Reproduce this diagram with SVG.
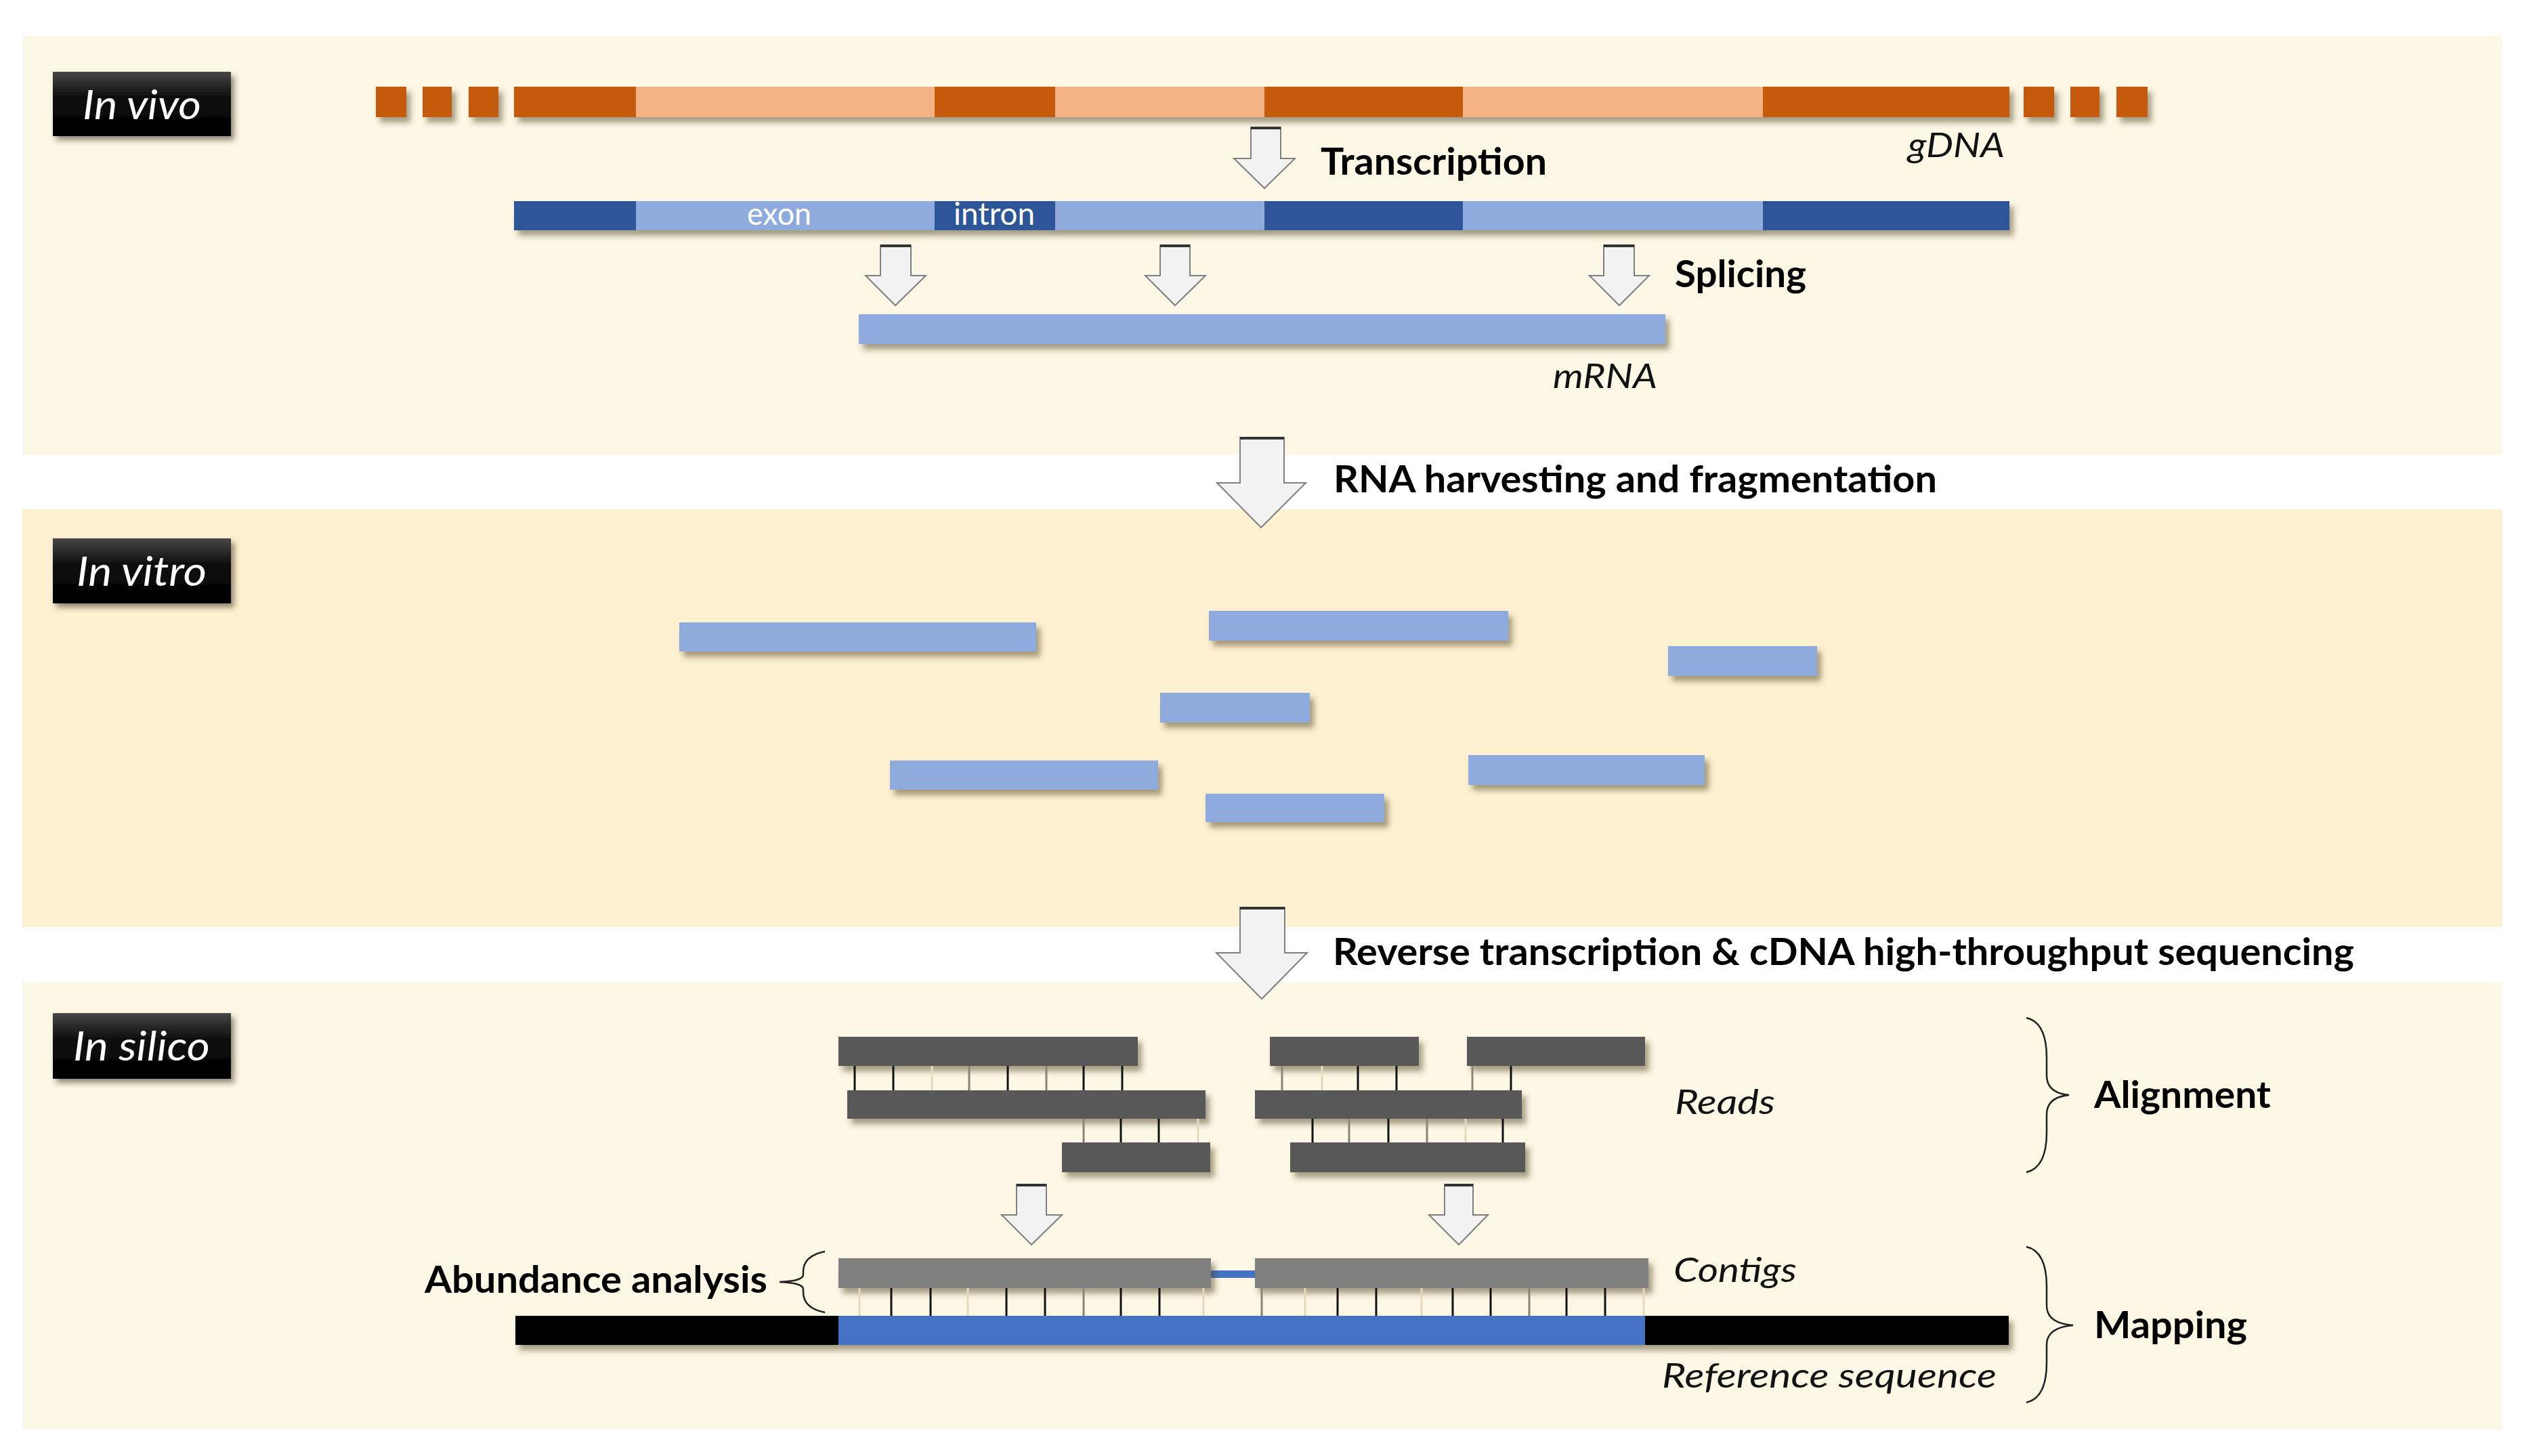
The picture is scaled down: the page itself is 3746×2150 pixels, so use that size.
<svg xmlns="http://www.w3.org/2000/svg" width="3746" height="2150" viewBox="0 0 3746 2150">
<defs>
  <filter id="sh" x="-5%" y="-30%" width="115%" height="200%">
    <feDropShadow dx="6" dy="8" stdDeviation="4" flood-color="#4a3f22" flood-opacity="0.5"/>
  </filter>
  <filter id="shs" x="-10%" y="-10%" width="130%" height="130%">
    <feDropShadow dx="5" dy="6" stdDeviation="4" flood-color="#3a3220" flood-opacity="0.55"/>
  </filter>
  <linearGradient id="lab" x1="0" y1="0" x2="0" y2="1">
    <stop offset="0" stop-color="#474747"/>
    <stop offset="0.4" stop-color="#0d0d0d"/>
    <stop offset="1" stop-color="#000000"/>
  </linearGradient>
  <style>
    .t{font-family:Lato,"Open Sans","Liberation Sans",sans-serif;}
    .b{font-weight:bold;font-size:55px;fill:#000;}
    .i{font-style:italic;font-size:50px;fill:#111;}
    .lab{font-style:italic;font-size:60px;fill:#fff;}
    .w{font-size:46px;fill:#fff;}
    .do{fill:#C55A11;}
    .lo{fill:#F4B183;}
    .db{fill:#2F5597;}
    .lb{fill:#8FAADC;}
    .rd{fill:#595959;}
    .ct{fill:#808080;}
    .arr{fill:#F2F2F2;stroke:#7F7F7F;stroke-width:2;stroke-linejoin:miter;}
    .atop{stroke:#333;stroke-width:4;}
    .tk{stroke:#111;stroke-width:3;}
    .tm{stroke:#8a8474;stroke-width:3;}
    .tf{stroke:#e3d9bd;stroke-width:3;}
    .br{fill:none;stroke:#222;stroke-width:2.5;}
  </style>
</defs>

<!-- panels -->
<rect width="3746" height="2150" fill="#ffffff"/>
<g id="panel-vivo"><rect x="33" y="53" width="3662" height="619" fill="#FDF7E5"/></g>
<g id="panel-vitro"><rect x="33" y="752" width="3662" height="617" fill="#FEF1D1"/></g>
<g id="panel-silico"><rect x="33" y="1450" width="3662" height="661" fill="#FDF7E5"/></g>

<!-- section labels -->
<g id="label-vivo">
  <rect x="78" y="106" width="263" height="95" fill="url(#lab)" filter="url(#shs)"/>
  <text class="t lab" x="122" y="176" textLength="175" lengthAdjust="spacingAndGlyphs">In vivo</text>
</g>
<g id="label-vitro">
  <rect x="78" y="795" width="263" height="96" fill="url(#lab)" filter="url(#shs)"/>
  <text class="t lab" x="113" y="865" textLength="192" lengthAdjust="spacingAndGlyphs">In vitro</text>
</g>
<g id="label-silico">
  <rect x="78" y="1496" width="263" height="97" fill="url(#lab)" filter="url(#shs)"/>
  <text class="t lab" x="108" y="1566" textLength="202" lengthAdjust="spacingAndGlyphs">In silico</text>
</g>

<!-- gDNA -->
<g id="gDNA">
  <g filter="url(#sh)">
    <rect class="do" x="555" y="128" width="45" height="45"/>
    <rect class="do" x="624" y="128" width="43" height="45"/>
    <rect class="do" x="692" y="128" width="44" height="45"/>
    <rect class="do" x="759" y="128" width="180" height="45"/>
    <rect class="lo" x="939" y="128" width="441" height="45"/>
    <rect class="do" x="1380" y="128" width="178" height="45"/>
    <rect class="lo" x="1558" y="128" width="309" height="45"/>
    <rect class="do" x="1867" y="128" width="293" height="45"/>
    <rect class="lo" x="2160" y="128" width="443" height="45"/>
    <rect class="do" x="2603" y="128" width="364" height="45"/>
    <rect class="do" x="2988" y="128" width="45" height="45"/>
    <rect class="do" x="3057" y="128" width="43" height="45"/>
    <rect class="do" x="3125" y="128" width="46" height="45"/>
  </g>
  <text class="t i" x="2817" y="232" textLength="143" lengthAdjust="spacingAndGlyphs">gDNA</text>
</g>

<!-- pre-mRNA -->
<g id="pre-mRNA">
  <g filter="url(#sh)">
    <rect class="db" x="759" y="297" width="180" height="43"/>
    <rect class="lb" x="939" y="297" width="441" height="43"/>
    <rect class="db" x="1380" y="297" width="178" height="43"/>
    <rect class="lb" x="1558" y="297" width="309" height="43"/>
    <rect class="db" x="1867" y="297" width="293" height="43"/>
    <rect class="lb" x="2160" y="297" width="443" height="43"/>
    <rect class="db" x="2603" y="297" width="364" height="43"/>
  </g>
  <text class="t w" x="1103" y="332" textLength="95" lengthAdjust="spacingAndGlyphs">exon</text>
  <text class="t w" x="1408" y="332" textLength="120" lengthAdjust="spacingAndGlyphs">intron</text>
</g>

<!-- mRNA -->
<g id="mRNA">
  <rect class="lb" x="1268" y="464" width="1191" height="44" filter="url(#sh)"/>
  <text class="t i" x="2293" y="573" textLength="154" lengthAdjust="spacingAndGlyphs">mRNA</text>
</g>

<!-- fragments -->
<g id="fragments" filter="url(#sh)">
  <rect class="lb" x="1003" y="919" width="527" height="43"/>
  <rect class="lb" x="1785" y="902" width="442" height="44"/>
  <rect class="lb" x="2463" y="954" width="220" height="44"/>
  <rect class="lb" x="1713" y="1023" width="221" height="44"/>
  <rect class="lb" x="1314" y="1123" width="396" height="43"/>
  <rect class="lb" x="1780" y="1172" width="264" height="42"/>
  <rect class="lb" x="2168" y="1115" width="349" height="44"/>
</g>

<!-- reads -->
<g id="reads">
  <g filter="url(#sh)">
    <rect class="rd" x="1238" y="1531" width="442" height="43"/>
    <rect class="rd" x="1875" y="1531" width="220" height="43"/>
    <rect class="rd" x="2166" y="1531" width="263" height="43"/>
    <rect class="rd" x="1251" y="1610" width="529" height="42"/>
    <rect class="rd" x="1853" y="1610" width="394" height="42"/>
    <rect class="rd" x="1568" y="1687" width="219" height="44"/>
    <rect class="rd" x="1905" y="1687" width="347" height="44"/>
  </g>
  <g id="read-ticks">
    <line class="tk" x1="1262" y1="1574" x2="1262" y2="1610"/>
    <line class="tk" x1="1319" y1="1574" x2="1319" y2="1610"/>
    <line class="tf" x1="1376" y1="1574" x2="1376" y2="1610"/>
    <line class="tm" x1="1431" y1="1574" x2="1431" y2="1610"/>
    <line class="tk" x1="1488" y1="1574" x2="1488" y2="1610"/>
    <line class="tm" x1="1545" y1="1574" x2="1545" y2="1610"/>
    <line class="tk" x1="1600" y1="1574" x2="1600" y2="1610"/>
    <line class="tk" x1="1657" y1="1574" x2="1657" y2="1610"/>
    <line class="tm" x1="1893" y1="1574" x2="1893" y2="1610"/>
    <line class="tf" x1="1952" y1="1574" x2="1952" y2="1610"/>
    <line class="tk" x1="2005" y1="1574" x2="2005" y2="1610"/>
    <line class="tk" x1="2062" y1="1574" x2="2062" y2="1610"/>
    <line class="tm" x1="2174" y1="1574" x2="2174" y2="1610"/>
    <line class="tk" x1="2231" y1="1574" x2="2231" y2="1610"/>
    <line class="tm" x1="1600" y1="1652" x2="1600" y2="1687"/>
    <line class="tk" x1="1655" y1="1652" x2="1655" y2="1687"/>
    <line class="tk" x1="1711" y1="1652" x2="1711" y2="1687"/>
    <line class="tf" x1="1769" y1="1652" x2="1769" y2="1687"/>
    <line class="tk" x1="1938" y1="1652" x2="1938" y2="1687"/>
    <line class="tm" x1="1992" y1="1652" x2="1992" y2="1687"/>
    <line class="tk" x1="2050" y1="1652" x2="2050" y2="1687"/>
    <line class="tm" x1="2107" y1="1652" x2="2107" y2="1687"/>
    <line class="tf" x1="2164" y1="1652" x2="2164" y2="1687"/>
    <line class="tk" x1="2219" y1="1652" x2="2219" y2="1687"/>
  </g>
  <text class="t i" x="2473" y="1645" textLength="148" lengthAdjust="spacingAndGlyphs">Reads</text>
</g>

<!-- reference sequence -->
<g id="reference">
  <g filter="url(#sh)">
    <rect fill="#000" x="761" y="1943" width="478" height="43"/>
    <rect fill="#4472C4" x="1238" y="1943" width="1191" height="43"/>
    <rect fill="#000" x="2429" y="1943" width="537" height="43"/>
  </g>
  <text class="t i" x="2454" y="2049" textLength="494" lengthAdjust="spacingAndGlyphs">Reference sequence</text>
</g>

<!-- contigs -->
<g id="contigs">
  <rect fill="#4472C4" x="1786" y="1876" width="68" height="11"/>
  <g filter="url(#sh)">
    <rect class="ct" x="1238" y="1858" width="550" height="44"/>
    <rect class="ct" x="1853" y="1858" width="581" height="44"/>
  </g>
  <g id="contig-ticks">
    <line class="tf" x1="1269" y1="1902" x2="1269" y2="1943"/>
    <line class="tk" x1="1316" y1="1902" x2="1316" y2="1943"/>
    <line class="tk" x1="1374" y1="1902" x2="1374" y2="1943"/>
    <line class="tf" x1="1429" y1="1902" x2="1429" y2="1943"/>
    <line class="tk" x1="1486" y1="1902" x2="1486" y2="1943"/>
    <line class="tk" x1="1543" y1="1902" x2="1543" y2="1943"/>
    <line class="tm" x1="1600" y1="1902" x2="1600" y2="1943"/>
    <line class="tk" x1="1655" y1="1902" x2="1655" y2="1943"/>
    <line class="tk" x1="1712" y1="1902" x2="1712" y2="1943"/>
    <line class="tf" x1="1777" y1="1902" x2="1777" y2="1943"/>
    <line class="tm" x1="1863" y1="1902" x2="1863" y2="1943"/>
    <line class="tf" x1="1927" y1="1902" x2="1927" y2="1943"/>
    <line class="tk" x1="1975" y1="1902" x2="1975" y2="1943"/>
    <line class="tk" x1="2032" y1="1902" x2="2032" y2="1943"/>
    <line class="tf" x1="2099" y1="1902" x2="2099" y2="1943"/>
    <line class="tk" x1="2145" y1="1902" x2="2145" y2="1943"/>
    <line class="tk" x1="2201" y1="1902" x2="2201" y2="1943"/>
    <line class="tm" x1="2258" y1="1902" x2="2258" y2="1943"/>
    <line class="tk" x1="2313" y1="1902" x2="2313" y2="1943"/>
    <line class="tk" x1="2370" y1="1902" x2="2370" y2="1943"/>
    <line class="tf" x1="2427" y1="1902" x2="2427" y2="1943"/>
  </g>
  <text class="t i" x="2471" y="1893" textLength="182" lengthAdjust="spacingAndGlyphs">Contigs</text>
</g>

<!-- braces and bracket labels -->
<g id="alignment">
  <path class="br" d="M2992,1503 C3014,1508 3022,1530 3022,1562 L3022,1588 C3022,1606 3034,1615 3055,1617 C3034,1619 3022,1628 3022,1646 L3022,1672 C3022,1704 3014,1726 2992,1731"/>
  <text class="t b" x="3092" y="1636" textLength="261" lengthAdjust="spacingAndGlyphs">Alignment</text>
</g>
<g id="mapping">
  <path class="br" d="M2992,1841 C3014,1846 3022,1868 3022,1900 L3022,1928 C3022,1946 3036,1955 3061,1957 C3036,1959 3022,1968 3022,1986 L3022,2012 C3022,2044 3014,2066 2992,2071"/>
  <text class="t b" x="3092" y="1976" textLength="226" lengthAdjust="spacingAndGlyphs">Mapping</text>
</g>
<g id="abundance">
  <path class="br" d="M1218,1848 C1198,1852 1186,1862 1186,1878 L1186,1882 C1186,1889 1174,1892 1151,1893 C1174,1894 1186,1897 1186,1904 L1186,1908 C1186,1924 1198,1934 1218,1938"/>
  <text class="t b" x="627" y="1909" textLength="506" lengthAdjust="spacingAndGlyphs">Abundance analysis</text>
</g>

<!-- process arrows (connectors) -->
<g id="connectors">
  <g id="arrow-transcription">
    <path class="arr" d="M1847,188 L1891,188 L1891,234 L1912,234 L1867,278 L1822,234 L1847,234 Z"/>
    <line class="atop" x1="1847" y1="189" x2="1891" y2="189"/>
  </g>
  <g id="arrow-splice-1">
    <path class="arr" d="M1300,362 L1345,362 L1345,407 L1367,407 L1322,451 L1278,407 L1300,407 Z"/>
    <line class="atop" x1="1300" y1="363" x2="1345" y2="363"/>
  </g>
  <g id="arrow-splice-2">
    <path class="arr" d="M1713,362 L1757,362 L1757,407 L1780,407 L1735,451 L1691,407 L1713,407 Z"/>
    <line class="atop" x1="1713" y1="363" x2="1757" y2="363"/>
  </g>
  <g id="arrow-splice-3">
    <path class="arr" d="M2368,362 L2413,362 L2413,407 L2435,407 L2391,451 L2347,407 L2368,407 Z"/>
    <line class="atop" x1="2368" y1="363" x2="2413" y2="363"/>
  </g>
  <g id="arrow-harvest">
    <path class="arr" d="M1831,646 L1896,646 L1896,713 L1928,713 L1862,779 L1797,713 L1831,713 Z"/>
    <line class="atop" x1="1831" y1="647" x2="1896" y2="647"/>
  </g>
  <g id="arrow-reverse">
    <path class="arr" d="M1831,1340 L1897,1340 L1897,1407 L1930,1407 L1863,1475 L1796,1407 L1831,1407 Z"/>
    <line class="atop" x1="1831" y1="1341" x2="1897" y2="1341"/>
  </g>
  <g id="arrow-assemble-1">
    <path class="arr" d="M1501,1749 L1545,1749 L1545,1794 L1568,1794 L1523,1838 L1479,1794 L1501,1794 Z"/>
    <line class="atop" x1="1501" y1="1750" x2="1545" y2="1750"/>
  </g>
  <g id="arrow-assemble-2">
    <path class="arr" d="M2133,1749 L2175,1749 L2175,1794 L2197,1794 L2154,1838 L2110,1794 L2133,1794 Z"/>
    <line class="atop" x1="2133" y1="1750" x2="2175" y2="1750"/>
  </g>
</g>

<!-- process labels -->
<g id="step-labels">
  <text class="t b" x="1950" y="258" textLength="334" lengthAdjust="spacingAndGlyphs">Transcription</text>
  <text class="t b" x="2473" y="424" textLength="194" lengthAdjust="spacingAndGlyphs">Splicing</text>
  <text class="t b" x="1969" y="727" textLength="891" lengthAdjust="spacingAndGlyphs">RNA harvesting and fragmentation</text>
  <text class="t b" x="1968" y="1425" textLength="1508" lengthAdjust="spacingAndGlyphs">Reverse transcription &amp; cDNA high-throughput sequencing</text>
</g>
</svg>
